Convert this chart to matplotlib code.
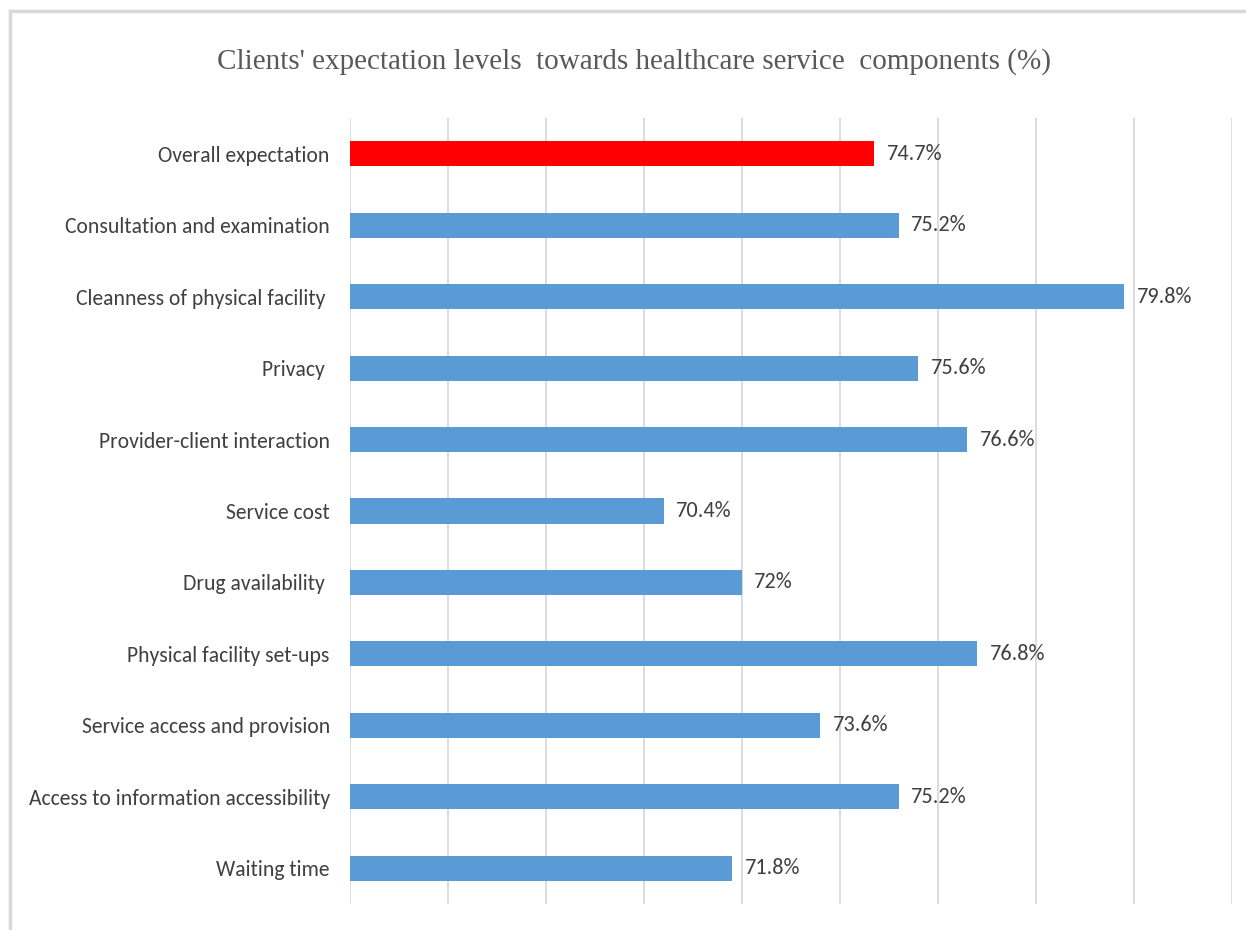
import matplotlib.pyplot as plt
from matplotlib.lines import Line2D

categories = ["Overall expectation", "Consultation and examination", "Cleanness of physical facility ",
              "Privacy ", "Provider-client interaction", "Service cost", "Drug availability ",
              "Physical facility set-ups", "Service access and provision",
              "Access to information accessibility", "Waiting time"]
values = [74.7, 75.2, 79.8, 75.6, 76.6, 70.4, 72.0, 76.8, 73.6, 75.2, 71.8]
labels = ["74.7%", "75.2%", "79.8%", "75.6%", "76.6%", "70.4%", "72%", "76.8%", "73.6%", "75.2%", "71.8%"]
xmin, xmax = 64, 82

sans = ["Carlito", "Liberation Sans Narrow", "Roboto Condensed", "Liberation Sans"]
W, H = 1246, 930
fig = plt.figure(figsize=(W/100, H/100), dpi=100)
ax = fig.add_axes([350/W, 1-904/H, (1232-350)/W, (904-118)/H])

colors = ["#ff0000"] + ["#5b9bd5"]*(len(values)-1)
ypos = list(range(len(values)))
ax.barh(ypos, [v - xmin for v in values], left=xmin, height=0.35, color=colors, zorder=3)
for y, v, t in zip(ypos, values, labels):
    ax.text(v + 0.25, y, t, va="center", ha="left", fontsize=16, color="#404040", family=sans)

ax.set_xlim(xmin, xmax)
ax.set_ylim(len(values)-0.5, -0.5)
ax.set_xticks(range(xmin, xmax+1, 2))
ax.set_xticklabels([])
ax.tick_params(axis="x", length=0)
ax.tick_params(axis="y", length=0, pad=14.5)
ax.set_yticks(ypos)
ax.set_yticklabels(categories, fontsize=15.6, color="#404040", family=sans)
ax.grid(axis="x", color="#d9d9d9", linewidth=1.3, zorder=0)
for s in ax.spines.values():
    s.set_visible(False)

fig.text(0.509, 1-62/H, "Clients' expectation levels  towards healthcare service  components (%)",
         ha="center", va="center", fontsize=21, color="#595959",
         family=["Tinos", "Liberation Serif"])

# outer frame of the chart area
fig.add_artist(Line2D([10/W, 10/W], [0, 1-11/H], color="#d9d9d9", linewidth=2.5))
fig.add_artist(Line2D([10/W, 1], [1-11/H, 1-11/H], color="#d9d9d9", linewidth=2.5))

fig.savefig("out.png", dpi=100)
